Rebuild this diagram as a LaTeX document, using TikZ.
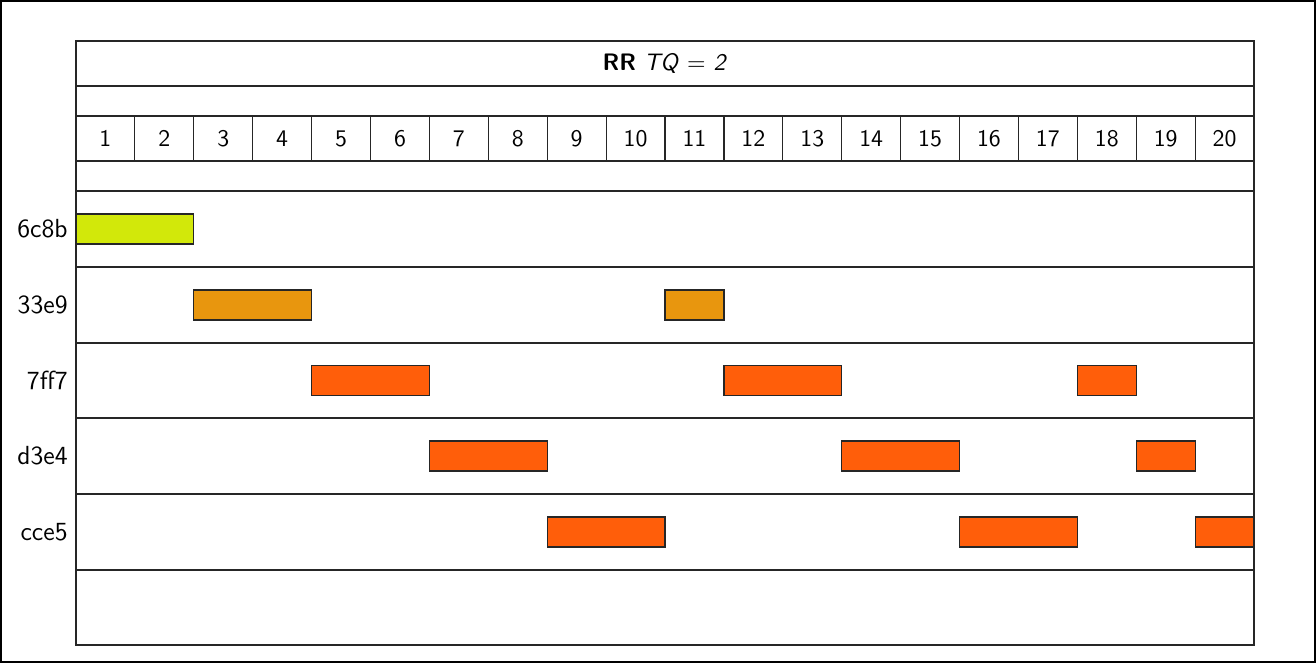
\documentclass[tikz,border=0pt]{standalone}
\usepackage{tikz}
\usetikzlibrary{positioning}
\renewcommand{\familydefault}{\sfdefault}

\definecolor{runfirst}{HTML}{D2E80A}
\definecolor{runsecond}{HTML}{E8960E}
\definecolor{runother}{HTML}{FF5E0A}

\begin{document}
\begin{tikzpicture}[x=0.42pt,y=-0.42pt]

		\useasboundingbox (0,0) rectangle (1316,663);
		\draw[black, line width=0.6pt] (1,1) rectangle (1315,662);

		% Chart frame and rows
		\draw[black!85, line width=0.5pt] (76,41) rectangle (1254,645);
		\foreach \yline in {86,116,161,191,267,343,418,494,570} {
			\draw[black!85, line width=0.5pt] (76,\yline) -- (1254,\yline);
		}

		% Title
		\node (title) at (665,63) {\textbf{RR} \textit{TQ} $=$ \textit{2}};

		% Time slots
		\foreach \t in {1,...,20} {
			\node (slot\t) at ({76+58.9*(\t-0.5)},138.5) {\t};
		}
		\foreach \t in {1,...,19} {
			\draw[black!85, line width=0.5pt] ({76+58.9*\t},116) -- ({76+58.9*\t},161);
		}

		% Process names
		\foreach \name/\yc in {6c8b/229,33e9/305,7ff7/380.5,d3e4/456,cce5/532} {
			\node[anchor=east, font=\fontsize{11}{13}\selectfont] (proc\name) at (76,\yc) {\name};
		}

		% Time slices
		\foreach \yc/\s/\e/\col in {229/0/2/runfirst,
			305/2/4/runsecond, 305/10/11/runsecond,
			380.5/4/6/runother, 380.5/11/13/runother, 380.5/17/18/runother,
			456/6/8/runother, 456/13/15/runother, 456/18/19/runother,
			532/8/10/runother, 532/15/17/runother, 532/19/20/runother} {
			\filldraw[fill=\col, draw=black!85, line width=0.5pt] ({76+58.9*\s},{\yc-15}) rectangle ({76+58.9*\e},{\yc+15});
		}

	\end{tikzpicture}
\end{document}
